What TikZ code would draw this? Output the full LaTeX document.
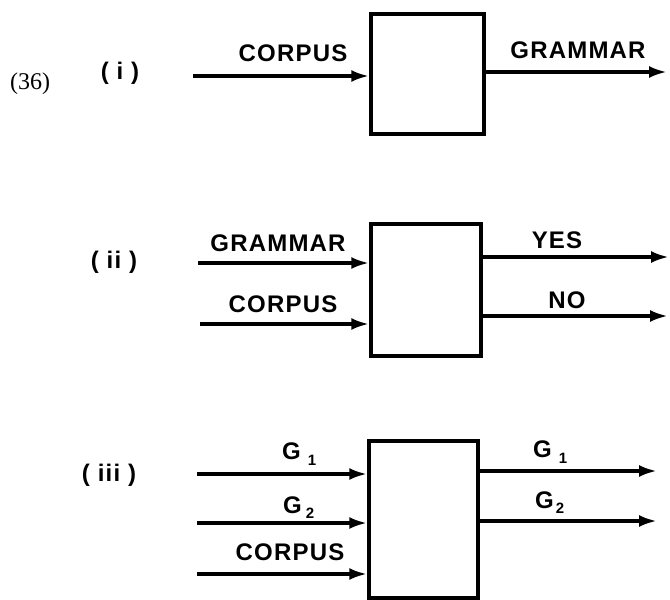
\documentclass[tikz,border=0pt]{standalone}
\usepackage{fontspec}
\setmainfont{Liberation Serif}
\newfontfamily\labelfont[LetterSpace=5]{Liberation Sans Bold}
\usetikzlibrary{arrows.meta}

\begin{document}
\begin{tikzpicture}
[every node/.style={inner sep=0pt}, >={Latex[length=18pt, width=12pt]},
 tag/.style={font=\labelfont\fontsize{24}{26}\selectfont},
 block/.style={rectangle, line width=3.5pt, draw=black}]
\useasboundingbox (0pt, 0pt) rectangle (670pt, -600pt);
% left numbers
\node (n36) [font=\fontsize{24}{26}\selectfont] at (30.0pt, -84.0pt) {(36)};
\node (ni) [tag] at (120.0pt, -73.0pt) {( i )};
\node (nii) [tag] at (114.0pt, -262.0pt) {( ii )};
\node (niii) [tag] at (109.0pt, -475.0pt) {( iii )};
% boxes
\node (box1) [block, minimum width=113.0pt, minimum height=120.0pt] at (427.5pt, -74.0pt) {};
\node (box2) [block, minimum width=110.0pt, minimum height=132.0pt] at (426.0pt, -290.0pt) {};
\node (box3) [block, minimum width=109.0pt, minimum height=157.0pt] at (423.5pt, -519.5pt) {};
% free ends
\coordinate (in1) at (193.0pt, -76.0pt);
\coordinate (out1) at (667.0pt, -72.0pt);
\coordinate (in2a) at (198.0pt, -263.0pt);
\coordinate (in2b) at (200.0pt, -324.0pt);
\coordinate (out2a) at (669.0pt, -257.0pt);
\coordinate (out2b) at (668.0pt, -316.0pt);
\coordinate (in3a) at (197.0pt, -474.0pt);
\coordinate (in3b) at (197.0pt, -523.0pt);
\coordinate (in3c) at (197.0pt, -574.0pt);
\coordinate (out3a) at (657.0pt, -471.0pt);
\coordinate (out3b) at (657.0pt, -521.0pt);
% labels
\node (corpus1) [tag] at (293.0pt, -53.0pt) {CORPUS};
\node (grammar1) [tag] at (578.0pt, -50.0pt) {GRAMMAR};
\node (grammar2) [tag] at (278.0pt, -243.0pt) {GRAMMAR};
\node (corpus2) [tag] at (283.0pt, -304.0pt) {CORPUS};
\node (yes) [tag] at (557.0pt, -240.0pt) {YES};
\node (no) [tag] at (567.0pt, -300.0pt) {NO};
\node (g1in) [tag, anchor=base west] at (282.0pt, -459.0pt) {G\hspace{7pt}\raisebox{-6pt}{\fontsize{15}{15}\selectfont 1}};
\node (g2in) [tag, anchor=base west] at (283.0pt, -513.0pt) {G\hspace{4pt}\raisebox{-5pt}{\fontsize{15}{15}\selectfont 2}};
\node (corpus3) [tag] at (290.0pt, -552.0pt) {CORPUS};
\node (g1out) [tag, anchor=base west] at (533.0pt, -457.0pt) {G\hspace{7pt}\raisebox{-6pt}{\fontsize{15}{15}\selectfont 1}};
\node (g2out) [tag, anchor=base west] at (535.0pt, -508.0pt) {G\hspace{2pt}\raisebox{-5pt}{\fontsize{15}{15}\selectfont 2}};
% arrows
\draw [line width=3.5pt, ->, color=black] (in1) to (in1 -| box1.west);
\draw [line width=3.5pt, ->, color=black] (out1 -| box1.east) to (out1);
\draw [line width=3.5pt, ->, color=black] (in2a) to (in2a -| box2.west);
\draw [line width=3.5pt, ->, color=black] (in2b) to (in2b -| box2.west);
\draw [line width=3.5pt, ->, color=black] (out2a -| box2.east) to (out2a);
\draw [line width=3.5pt, ->, color=black] (out2b -| box2.east) to (out2b);
\draw [line width=3.5pt, ->, color=black] (in3a) to (in3a -| box3.west);
\draw [line width=3.5pt, ->, color=black] (in3b) to (in3b -| box3.west);
\draw [line width=3.5pt, ->, color=black] (in3c) to (in3c -| box3.west);
\draw [line width=3.5pt, ->, color=black] (out3a -| box3.east) to (out3a);
\draw [line width=3.5pt, ->, color=black] (out3b -| box3.east) to (out3b);
\end{tikzpicture}
\end{document}
